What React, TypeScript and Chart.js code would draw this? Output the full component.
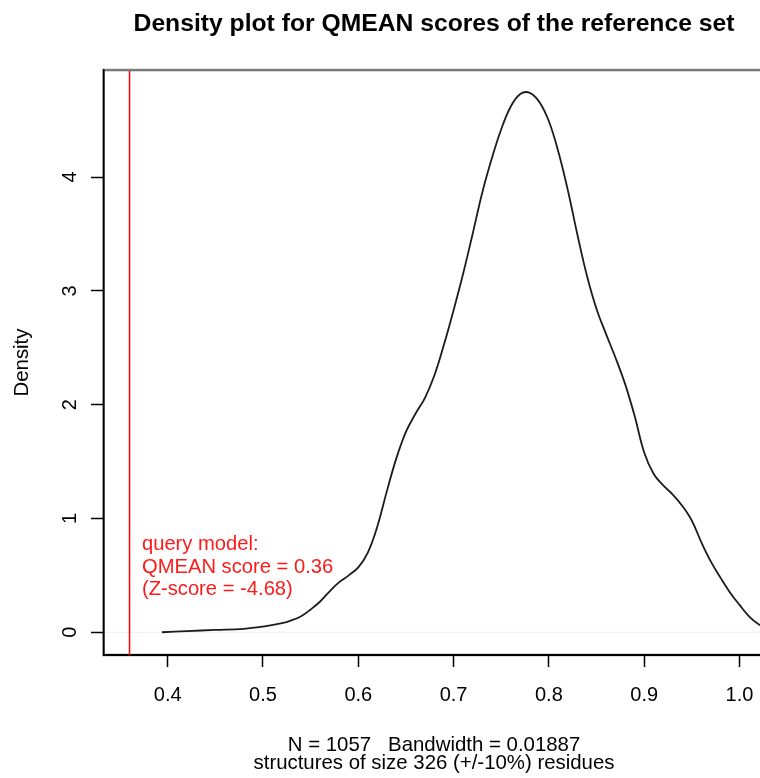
import React, { useEffect, useRef } from "react";
import { Chart, registerables } from "chart.js";

Chart.register(...registerables);

// ---- data ----
const DENSITY_X = [
  0.394, 0.42, 0.45, 0.48, 0.5, 0.52, 0.53, 0.54, 0.55, 0.56, 0.57, 0.58, 0.59, 0.6, 0.61,
  0.62, 0.63, 0.64, 0.65, 0.66, 0.67, 0.68, 0.69, 0.7, 0.71, 0.72, 0.73, 0.74, 0.75, 0.76,
  0.77, 0.78, 0.79, 0.8, 0.81, 0.82, 0.83, 0.84, 0.85, 0.86, 0.87, 0.88, 0.89, 0.9, 0.91,
  0.92, 0.93, 0.94, 0.95, 0.96, 0.97, 0.98, 0.99, 1.0, 1.01, 1.02, 1.03,
];
const DENSITY_Y = [
  0.0, 0.01, 0.02, 0.03, 0.05, 0.08, 0.105, 0.14, 0.2, 0.27, 0.36, 0.44, 0.5, 0.57, 0.7,
  0.93, 1.24, 1.53, 1.76, 1.92, 2.06, 2.26, 2.53, 2.83, 3.15, 3.5, 3.86, 4.16, 4.42, 4.62,
  4.73, 4.74, 4.66, 4.49, 4.22, 3.88, 3.49, 3.13, 2.84, 2.62, 2.41, 2.18, 1.9, 1.58, 1.39,
  1.29, 1.21, 1.11, 0.98, 0.79, 0.62, 0.48, 0.35, 0.24, 0.14, 0.07, 0.03,
];
const X_TICKS = [0.4, 0.5, 0.6, 0.7, 0.8, 0.9, 1.0];
const Y_TICKS = [0, 1, 2, 3, 4];
const X_MIN = 0.3332;
const X_MAX = 1.0257;
const Y_MIN = -0.2;
const Y_MAX = 4.94;

const QUERY_SCORE = 0.36;
const QUERY_LINES = ["query model:", "QMEAN score = 0.36", "(Z-score = -4.68)"];
const ANNOT_X = 0.373;
const ANNOT_Y = 0.77;

const TITLE = "Density plot for QMEAN scores of the reference set";
const X_TITLE = ["N = 1057   Bandwidth = 0.01887", "structures of size 326 (+/-10%) residues"];
const Y_TITLE = "Density";

const FONT = "'Liberation Sans', Arial, Helvetica, sans-serif";

const decorPlugin = {
  id: "rDecor",
  beforeDraw(chart: any) {
    const { ctx, chartArea: a, scales } = chart;
    ctx.save();
    // faint zero line
    const y0 = scales.y.getPixelForValue(0);
    ctx.strokeStyle = "#ececec";
    ctx.lineWidth = 1;
    ctx.beginPath();
    ctx.moveTo(a.left, y0);
    ctx.lineTo(a.right, y0);
    ctx.stroke();
    // gray box
    ctx.strokeStyle = "#7a7a7a";
    ctx.lineWidth = 2.5;
    ctx.strokeRect(a.left - 0.5, a.top, a.right - a.left, a.bottom - a.top);
    ctx.restore();
  },
  afterDatasetsDraw(chart: any) {
    const { ctx, chartArea: a, scales } = chart;
    ctx.save();
    const xq = scales.x.getPixelForValue(QUERY_SCORE);
    ctx.strokeStyle = "#ff0000";
    ctx.lineWidth = 1.5;
    ctx.beginPath();
    ctx.moveTo(xq, a.top + 1);
    ctx.lineTo(xq, a.bottom);
    ctx.stroke();

    const tx = scales.x.getPixelForValue(ANNOT_X);
    const ty = scales.y.getPixelForValue(ANNOT_Y);
    ctx.fillStyle = "#ff1a1a";
    ctx.font = `20.2px ${FONT}`;
    ctx.textAlign = "left";
    ctx.textBaseline = "middle";
    QUERY_LINES.forEach((line, i) => {
      ctx.fillText(line, tx, ty + i * 22.5);
    });
    ctx.restore();
  },
};

export default function App() {
  const canvasRef = useRef<HTMLCanvasElement | null>(null);

  useEffect(() => {
    const canvas = canvasRef.current;
    if (!canvas) return;
    const chart = new Chart(canvas, {
      type: "line",
      data: {
        datasets: [
          {
            label: "density",
            data: DENSITY_X.map((x, i) => ({ x, y: DENSITY_Y[i] })),
            borderColor: "#1c1c1c",
            borderWidth: 1.8,
            pointRadius: 0,
            fill: false,
            tension: 0.4,
          },
        ],
      },
      options: {
        animation: false,
        responsive: false,
        devicePixelRatio: 1,
        layout: { padding: { left: 0, right: 36, top: 0, bottom: 0 } },
        plugins: {
          legend: { display: false },
          tooltip: { enabled: false },
          title: {
            display: true,
            text: TITLE,
            fullSize: false,
            color: "#000",
            font: { family: FONT, size: 24.7, weight: "bold", lineHeight: 1.2 },
            padding: { top: 9, bottom: 31.4 },
          },
        },
        scales: {
          x: {
            type: "linear",
            min: X_MIN,
            max: X_MAX,
            afterBuildTicks: (s: any) => {
              s.ticks = X_TICKS.map((v) => ({ value: v }));
            },
            afterFit: (s: any) => {
              s.height = 123;
            },
            grid: { drawOnChartArea: false, tickLength: 12, tickColor: "#000", tickWidth: 1.5 },
            border: { display: true, color: "#000", width: 2 },
            ticks: {
              autoSkip: false,
              maxRotation: 0,
              minRotation: 0,
              padding: 16,
              color: "#000",
              font: { family: FONT, size: 20 },
              callback: (v: any) => Number(v).toFixed(1),
            },
            title: {
              display: true,
              text: X_TITLE,
              color: "#000",
              font: { family: FONT, size: 20.4, lineHeight: 0.88 },
              padding: { top: 0, bottom: 6 },
            },
          },
          y: {
            type: "linear",
            min: Y_MIN,
            max: Y_MAX,
            afterBuildTicks: (s: any) => {
              s.ticks = Y_TICKS.map((v) => ({ value: v }));
            },
            afterFit: (s: any) => {
              s.width = 104;
            },
            grid: { drawOnChartArea: false, tickLength: 13, tickColor: "#000", tickWidth: 1.5 },
            border: { display: true, color: "#000", width: 1.5 },
            ticks: {
              autoSkip: false,
              minRotation: 90,
              maxRotation: 90,
              crossAlign: "center",
              padding: 15,
              color: "#000",
              font: { family: FONT, size: 20 },
              callback: (v: any) => String(v),
            },
            title: {
              display: true,
              text: Y_TITLE,
              color: "#000",
              font: { family: FONT, size: 20.4 },
              padding: { top: 10, bottom: 0 },
            },
          },
        },
      },
      plugins: [decorPlugin],
    } as any);
    return () => chart.destroy();
  }, []);

  return (
    <div
      style={{
        position: "absolute",
        left: 0,
        top: 0,
        width: 760,
        height: 778,
        overflow: "hidden",
        background: "#fff",
      }}
    >
      <canvas ref={canvasRef} width={800} height={778} style={{ display: "block" }} />
    </div>
  );
}
